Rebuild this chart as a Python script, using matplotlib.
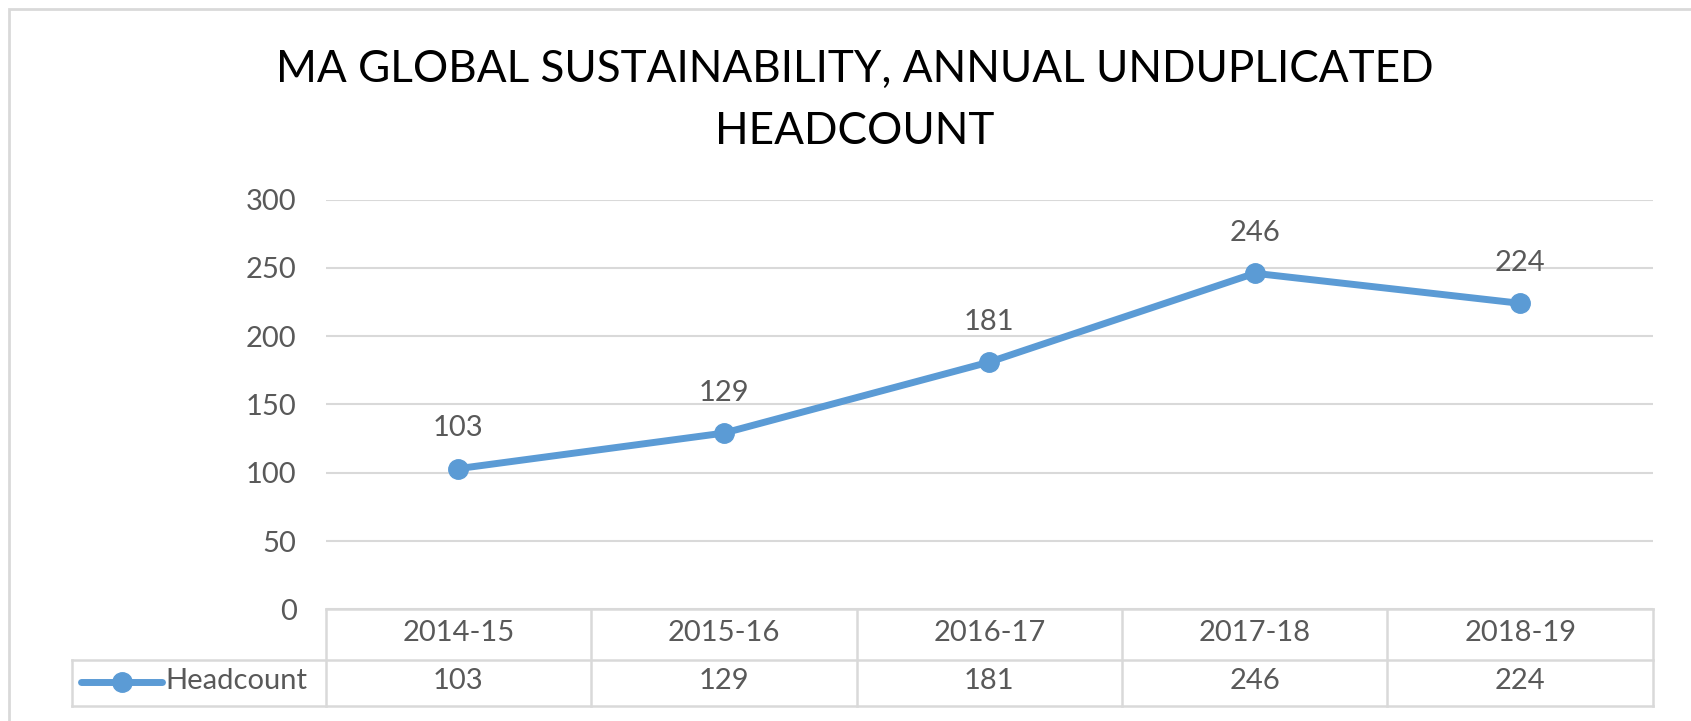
import matplotlib.pyplot as plt
from matplotlib import patches

years = ["2014-15", "2015-16", "2016-17", "2017-18", "2018-19"]
headcount = [103, 129, 181, 246, 224]
y_ticks = [0, 50, 100, 150, 200, 250, 300]
series_name = "Headcount"
title_lines = ["MA GLOBAL SUSTAINABILITY, ANNUAL UNDUPLICATED", "HEADCOUNT"]

blue = "#5B9BD5"
grid = "#D9D9D9"
txt = "#595959"
fs = 21

plt.rcParams["font.family"] = ["Lato", "DejaVu Sans"]

fig = plt.figure(figsize=(16.91, 7.21), dpi=100)
ax = fig.add_axes([0.1926, 0.1549, 0.7849, 0.5684])

x = list(range(len(years)))
ax.plot(x, headcount, color=blue, lw=5, marker="o", ms=14, zorder=3,
        solid_capstyle="round")
for xi, v in zip(x, headcount):
    ax.annotate(str(v), (xi, v), xytext=(0, 29), textcoords="offset points",
                ha="center", va="center", fontsize=fs, color=txt)

ax.set_xlim(-0.5, len(years) - 0.5)
ax.set_ylim(0, 300)
ax.set_yticks(y_ticks)
ax.set_xticks([])
ax.tick_params(axis="y", length=0, pad=21, labelsize=fs, labelcolor=txt)
ax.grid(axis="y", color=grid, lw=1.5)
ax.set_axisbelow(True)
for s in ax.spines.values():
    s.set_visible(False)

# data table under the chart
tr = ax.get_xaxis_transform()
y_mid, y_bot = -0.1237, -0.2359
x_leg = -1.4556
kw = dict(color=grid, lw=1.8, transform=tr, clip_on=False)
ax.plot([-0.5, 4.5], [0, 0], **kw)
ax.plot([x_leg, 4.5], [y_mid, y_mid], **kw)
ax.plot([x_leg, 4.5], [y_bot, y_bot], **kw)
ax.plot([x_leg, x_leg], [y_mid, y_bot], **kw)
for b in range(len(years) + 1):
    ax.plot([b - 0.5, b - 0.5], [0, y_bot], **kw)
for xi, lab, v in zip(x, years, headcount):
    ax.text(xi, -0.058, lab, transform=tr, ha="center", va="center",
            fontsize=fs, color=txt)
    ax.text(xi, -0.176, str(v), transform=tr, ha="center", va="center",
            fontsize=fs, color=txt)

# legend key inside table
ax.plot([-1.4217, -1.1165], [-0.178, -0.178], color=blue, lw=5,
        transform=tr, clip_on=False, solid_capstyle="round")
ax.plot([-1.267], [-0.178], marker="o", ms=14, color=blue, transform=tr,
        clip_on=False)
ax.text(-1.105, -0.176, series_name, transform=tr, ha="left", va="center",
        fontsize=fs, color=txt)

for ty, line in zip([0.903, 0.817], title_lines):
    fig.text(0.5056, ty, line, ha="center", va="center", fontsize=31.8,
             color="black")

fig.patches.append(patches.Rectangle((9 / 1691, -0.1), 1.2, 1.1 - 9 / 721,
                                     transform=fig.transFigure, fill=False,
                                     edgecolor=grid, lw=2))

fig.savefig("out.png", dpi=100)
